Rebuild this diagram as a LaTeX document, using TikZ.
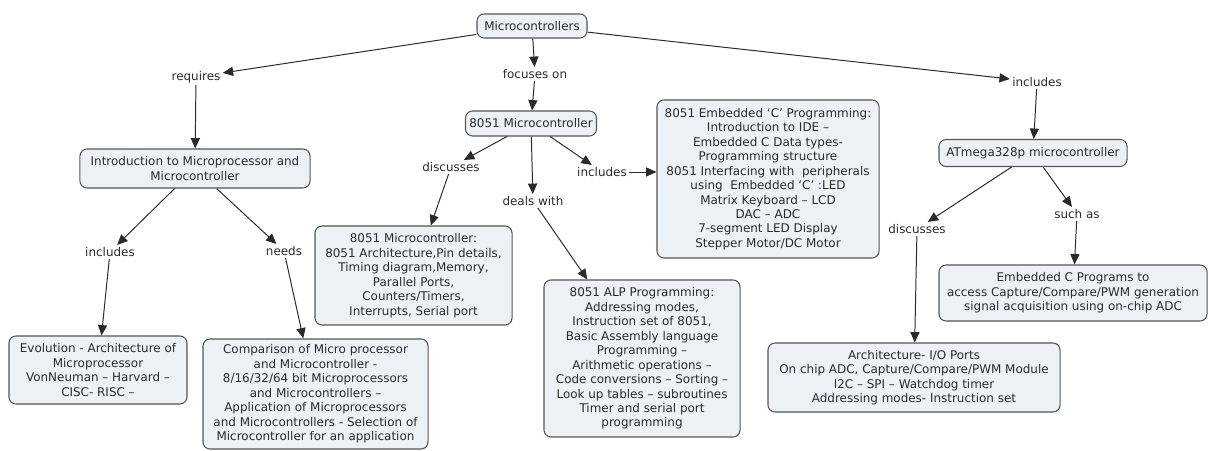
\documentclass[tikz,border=0pt]{standalone}
\usepackage{fontspec}
\setmainfont{DejaVu Sans}
\usetikzlibrary{arrows.meta}
\definecolor{boxfill}{HTML}{EBF1F4}
\definecolor{boxline}{HTML}{555555}
\definecolor{inkgray}{HTML}{2A2A2A}

\begin{document}
\begin{tikzpicture}[
    x=0.025cm, y=-0.025cm,
    every node/.style={font=\fontsize{8.5}{10.3}\selectfont, text=inkgray},
    concept/.style={draw=boxline, fill=boxfill, rounded corners=5pt, align=center,
        inner sep=2pt, line width=0.75pt},
    linkword/.style={inner sep=1.5pt},
    arrow/.style={-{Triangle[length=2.6mm, width=2.3mm]}, draw=inkgray, line width=0.7pt}
]
\useasboundingbox (0,0) rectangle (1208,451);

% ---- Root ----
\node[concept, minimum width=2.75cm, minimum height=0.6cm] (mc) at (532,26) {Microcontrollers};

% ---- Left branch ----
\node[linkword] (req) at (196,77) {requires};
\node[concept, minimum width=5.75cm, minimum height=0.975cm] (intro) at (195,168.5)
    {Introduction to Microprocessor and\\Microcontroller};
\node[linkword] (incl) at (110,252) {includes};
\node[linkword] (needs) at (284,251) {needs};
\node[concept, minimum width=4.45cm, minimum height=1.7cm] (evol) at (98,370)
    {Evolution - Architecture of\\Microprocessor\\VonNeuman – Harvard –\\CISC- RISC –};
\node[concept, minimum width=5.625cm, minimum height=2.75cm] (comp) at (315.5,394)
    {Comparison of Micro processor\\and Microcontroller -\\8/16/32/64 bit Microprocessors\\and Microcontrollers –\\Application of Microprocessors\\and Microcontrollers - Selection of\\Microcontroller for an application};

% ---- Middle branch ----
\node[linkword] (foc) at (535,74) {focuses on};
\node[concept, minimum width=3.275cm, minimum height=0.625cm] (mcu) at (531,123.5) {8051 Microcontroller};
\node[linkword] (dis1) at (451,167) {discusses};
\node[linkword] (deals) at (533,201) {deals with};
\node[linkword] (inc2) at (602,172) {includes};
\node[concept, minimum width=4.925cm, minimum height=2.475cm] (mcdet) at (413.5,275.5)
    {8051 Microcontroller:\\8051 Architecture,Pin details,\\Timing diagram,Memory,\\Parallel Ports,\\Counters/Timers,\\Interrupts, Serial port};
\node[concept, minimum width=4.9cm, minimum height=3.925cm] (alp) at (642,358.5)
    {8051 ALP Programming:\\Addressing modes,\\Instruction set of 8051,\\Basic Assembly language\\Programming –\\Arithmetic operations –\\Code conversions – Sorting –\\Look up tables – subroutines\\Timer and serial port\\programming};
\node[concept, minimum width=5.55cm, minimum height=3.95cm] (embc) at (768,179)
    {8051 Embedded ‘C’ Programming:\\Introduction to IDE –\\Embedded C Data types-\\Programming structure\\8051 Interfacing with\ \ peripherals\\using\ \ Embedded ‘C’ :LED\\Matrix Keyboard – LCD\\DAC – ADC\\7-segment LED Display\\Stepper Motor/DC Motor};

% ---- Right branch ----
\node[linkword] (inc3) at (1037,82) {includes};
\node[concept, minimum width=4.7cm, minimum height=0.675cm] (atm) at (1033,153) {ATmega328p microcontroller};
\node[linkword] (dis2) at (917,229) {discusses};
\node[linkword] (such) at (1077,214) {such as};
\node[concept, minimum width=6.7cm, minimum height=1.4cm] (embprog) at (1073,293)
    {Embedded C Programs to\\access Capture/Compare/PWM generation\\signal acquisition using on-chip ADC};
\node[concept, minimum width=7.3cm, minimum height=1.725cm] (arch) at (914,377.5)
    {Architecture- I/O Ports\\On chip ADC, Capture/Compare/PWM Module\\I2C – SPI – Watchdog timer\\Addressing modes- Instruction set};

% Root links
\draw[arrow] (mc) -- (req);
\draw[arrow] (mc) -- (foc);
\draw[arrow] (mc) -- (inc3);

% Left links
\draw[arrow] (req) -- (intro);
\draw[arrow] (intro) -- (incl);
\draw[arrow] (intro) -- (needs);
\draw[arrow] (incl) -- (evol);
\draw[arrow] (needs) -- (comp);

% Middle links
\draw[arrow] (foc) -- (mcu);
\draw[arrow] (mcu) -- (dis1);
\draw[arrow] (mcu) -- (deals);
\draw[arrow] (mcu) -- (inc2);
\draw[arrow] (dis1) -- (mcdet);
\draw[arrow] (deals) -- (alp);
\draw[arrow] (inc2) -- (inc2 -| embc.west);

% Right links
\draw[arrow] (inc3) -- (atm);
\draw[arrow] (atm) -- (dis2);
\draw[arrow] (atm) -- (such);
\draw[arrow] (dis2) -- (arch);
\draw[arrow] (such) -- (embprog);
\end{tikzpicture}
\end{document}
